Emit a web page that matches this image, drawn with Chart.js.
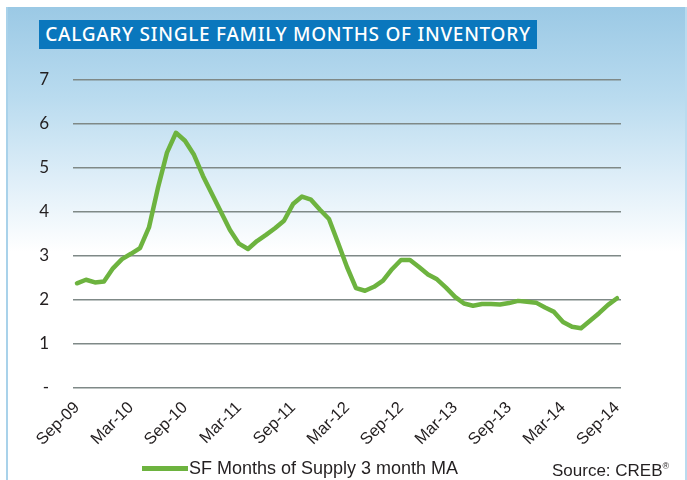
<!DOCTYPE html>
<html>
<head>
<meta charset="utf-8">
<script src="https://cdn.jsdelivr.net/npm/chart.js@4.4.1/dist/chart.umd.min.js"></script>
<style>
  body { margin: 0; width: 687px; height: 480px; position: relative; overflow: hidden; background: #fff; }
  #panel {
    position: absolute; left: 6px; top: 7px; width: 677px; height: 473px;
    border-left: 2px solid #a9d2ea; border-right: 2px solid #b9dbef;
    background: linear-gradient(to bottom, #9bc9e5 0px, #b9dbef 90px, #e2f0f9 180px, #ffffff 245px);
  }
  #title {
    position: absolute; left: 39px; top: 20px; width: 498px; height: 29px;
    background: #0a77bd; color: #fff; font: 500 19px 'Noto Sans', sans-serif;
    line-height: 29px; white-space: nowrap; text-align: center;
  }
  #myChart { position: absolute; left: 0; top: 0; }
  #legendLine { position: absolute; left: 142px; top: 466px; width: 46px; height: 5px; background: #6db33f; }
  #legendText { position: absolute; left: 189px; top: 458px; font: 18px 'Liberation Sans', Arial, sans-serif; color: #231f20; white-space: nowrap; }
  #source { position: absolute; left: 552px; top: 461px; font: 17px 'Liberation Sans', Arial, sans-serif; color: #231f20; white-space: nowrap; }
  #source sup { font-size: 9px; }
</style>
</head>
<body>
<div id="panel"></div>
<div id="title">CALGARY SINGLE FAMILY MONTHS OF INVENTORY</div>
<canvas id="myChart" width="687" height="480"></canvas>
<div id="legendLine"></div>
<div id="legendText">SF Months of Supply 3 month MA</div>
<div id="source">Source: CREB<sup>®</sup></div>
<script>
    // monthly, Sep-09 .. Sep-14
    const months = [
      'Sep-09','Oct-09','Nov-09','Dec-09','Jan-10','Feb-10','Mar-10','Apr-10','May-10','Jun-10','Jul-10','Aug-10',
      'Sep-10','Oct-10','Nov-10','Dec-10','Jan-11','Feb-11','Mar-11','Apr-11','May-11','Jun-11','Jul-11','Aug-11',
      'Sep-11','Oct-11','Nov-11','Dec-11','Jan-12','Feb-12','Mar-12','Apr-12','May-12','Jun-12','Jul-12','Aug-12',
      'Sep-12','Oct-12','Nov-12','Dec-12','Jan-13','Feb-13','Mar-13','Apr-13','May-13','Jun-13','Jul-13','Aug-13',
      'Sep-13','Oct-13','Nov-13','Dec-13','Jan-14','Feb-14','Mar-14','Apr-14','May-14','Jun-14','Jul-14','Aug-14',
      'Sep-14'
    ];
    const supply = [
      2.38, 2.46, 2.40, 2.42, 2.72, 2.93, 3.05, 3.18, 3.65, 4.55, 5.35, 5.80,
      5.62, 5.30, 4.82, 4.41, 4.00, 3.59, 3.28, 3.16, 3.34, 3.48, 3.63, 3.80,
      4.18, 4.35, 4.28, 4.05, 3.84, 3.30, 2.75, 2.27, 2.21, 2.30, 2.44, 2.70,
      2.91, 2.91, 2.75, 2.58, 2.47, 2.28, 2.07, 1.92, 1.87, 1.91, 1.91, 1.90,
      1.93, 1.98, 1.96, 1.94, 1.83, 1.73, 1.50, 1.39, 1.36, 1.53, 1.70, 1.89,
      2.04
    ];
    const tickLabels = ['Sep-09','Mar-10','Sep-10','Mar-11','Sep-11','Mar-12','Sep-12','Mar-13','Sep-13','Mar-14','Sep-14'];
    const yTicks = [0, 1, 2, 3, 4, 5, 6, 7];

    // stretch title text to the box like the original
    const title = document.getElementById('title');
    const span = document.createElement('span');
    span.textContent = title.textContent;
    title.textContent = '';
    title.appendChild(span);
    const gap = (485 - span.offsetWidth) / (span.textContent.length - 1);
    span.style.letterSpacing = gap + 'px';

    const config = {
      type: 'line',
      data: {
        datasets: [{
          label: 'SF Months of Supply 3 month MA',
          data: supply.map((v, i) => ({ x: i, y: v })),
          borderColor: '#6db33f',
          borderWidth: 4.5,
          pointRadius: 0,
          tension: 0,
          borderJoinStyle: 'round',
          borderCapStyle: 'round'
        }]
      },
      options: {
        responsive: false,
        animation: false,
        layout: { padding: { left: 0, right: 66, top: 80, bottom: 0 } },
        scales: {
          x: {
            type: 'linear',
            min: -0.44,
            max: months.length - 1 + 0.44,
            afterBuildTicks: (s) => { s.ticks = tickLabels.map(l => ({ value: months.indexOf(l) })); },
            afterFit: (s) => { s.height = 92; },
            grid: { display: false },
            border: { display: false },
            ticks: {
              autoSkip: false,
              minRotation: 45,
              maxRotation: 45,
              padding: 2,
              color: '#231f20',
              font: { family: "'Liberation Sans', Arial", size: 16.5 },
              callback: (v) => months[v]
            }
          },
          y: {
            min: 0,
            max: 7,
            afterBuildTicks: (s) => { s.ticks = yTicks.map(v => ({ value: v })); },
            afterFit: (s) => { s.width = 73; },
            border: { display: false },
            grid: { color: '#7f8987', lineWidth: 1.5, drawTicks: false },
            ticks: {
              padding: 24,
              color: '#231f20',
              font: { family: 'Lato', size: 17 },
              callback: (v) => v === 0 ? '-' : v
            }
          }
        },
        plugins: {
          legend: { display: false },
          tooltip: { enabled: false }
        }
      }
    };

    const myChart = new Chart(document.getElementById('myChart'), config);
</script>
</body>
</html>
